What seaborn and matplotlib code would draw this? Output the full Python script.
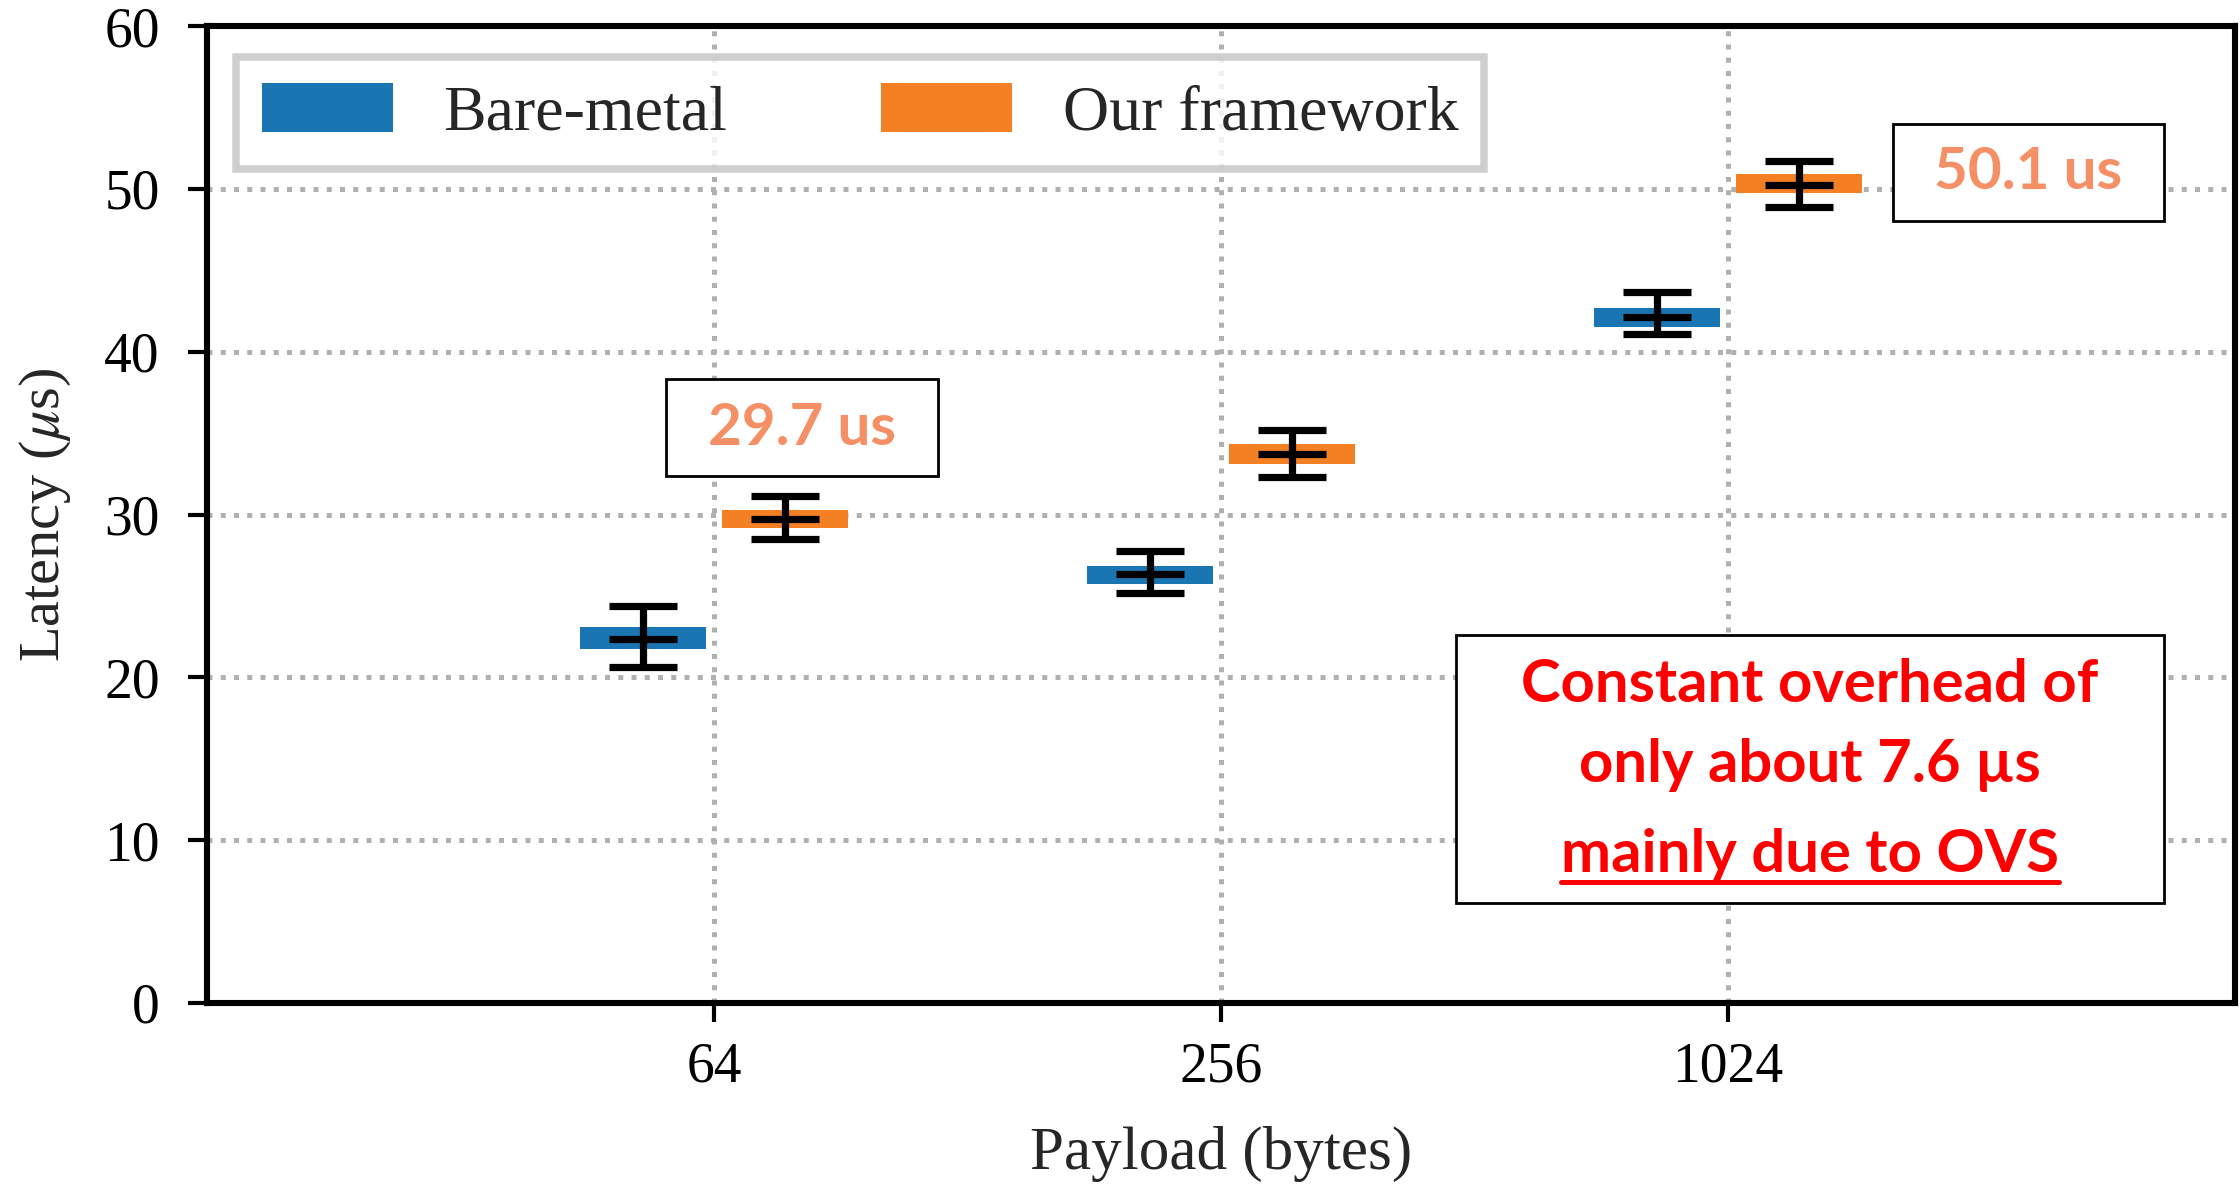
import matplotlib
matplotlib.use("Agg")
import matplotlib.pyplot as plt
from matplotlib.patches import Rectangle, Patch
import seaborn as sns
import numpy as np

# Payload sizes and systems
payloads = ['64', '256', '1024']
systems = ['Bare-metal', 'Our framework']

# Bare-metal: box bottom/top, middle line, whisker low/high (us)
bare_box_lo = [21.72, 25.73, 41.50]
bare_box_hi = [23.11, 26.86, 42.70]
bare_mid = [22.35, 26.33, 42.15]
bare_err_lo = [20.63, 25.20, 41.09]
bare_err_hi = [24.40, 27.78, 43.65]

# Our framework
ours_box_lo = [29.15, 33.08, 49.73]
ours_box_hi = [30.28, 34.31, 50.91]
ours_mid = [29.72, 33.72, 50.26]
ours_err_lo = [28.48, 32.32, 48.90]
ours_err_hi = [31.16, 35.19, 51.73]

label_64 = '29.7 us'
label_1024 = '50.1 us'
note_lines = ['Constant overhead of', 'only about 7.6 \u00b5s', 'mainly due to OVS']

colors = ['#1a76b3', '#f58024']

sns.set_style('ticks')
plt.rcParams['font.family'] = ['Liberation Serif', 'DejaVu Serif']
plt.rcParams['mathtext.fontset'] = 'stix'

fig = plt.figure(figsize=(11.2, 5.925), dpi=200)
ax = fig.add_axes([0.0924, 0.1536, 0.9054, 0.8244])

x = np.arange(len(payloads))
offset = 0.14
width = 0.25
series = [
    (bare_box_lo, bare_box_hi, bare_mid, bare_err_lo, bare_err_hi),
    (ours_box_lo, ours_box_hi, ours_mid, ours_err_lo, ours_err_hi),
]
for i, (blo, bhi, mid, elo, ehi) in enumerate(series):
    xs = x + (i * 2 - 1) * offset
    blo, bhi, mid = np.array(blo), np.array(bhi), np.array(mid)
    elo, ehi = np.array(elo), np.array(ehi)
    ax.bar(xs, bhi - blo, bottom=blo, width=width, color=colors[i],
           edgecolor='none', zorder=3)
    ax.errorbar(xs, mid, yerr=[mid - elo, ehi - mid], fmt='_', color='black',
                ms=24.5, mew=2.6, elinewidth=2.6, capsize=12.2, capthick=2.6,
                zorder=4)

ax.set_xlim(-1, 3)
ax.set_ylim(0, 60)
ax.set_xticks(x)
ax.set_xticklabels(payloads)
ax.set_yticks(np.arange(0, 61, 10))

ax.set_axisbelow(True)
ax.grid(True, linestyle=':', color='#b0b0b0', linewidth=1.8)
for sp in ax.spines.values():
    sp.set_color('black')
    sp.set_linewidth(2.2)
ax.tick_params(axis='both', direction='out', length=7, width=1.5,
               color='black', labelsize=20, labelcolor='black')
ax.tick_params(axis='y', pad=10)
ax.tick_params(axis='x', pad=7)

ax.set_ylabel('Latency ($\\mu$s)', fontsize=21)
ax.set_xlabel('Payload (bytes)', fontsize=22)
ax.yaxis.set_label_coords(-0.066, 0.5)
ax.xaxis.set_label_coords(0.5, -0.126)

handles = [Patch(facecolor=c, edgecolor='none') for c in colors]
leg = ax.legend(handles, systems, loc='upper left', bbox_to_anchor=(0.0143, 0.968),
                borderaxespad=0, ncol=2, fontsize=23, handlelength=2.05,
                handleheight=0.8, handletextpad=0.8, columnspacing=2.4,
                borderpad=0.4, fancybox=False, framealpha=0.8)
leg.get_frame().set_edgecolor('#c4c4c4')
leg.get_frame().set_linewidth(2.7)

ann_font = dict(family=['Lato', 'DejaVu Sans'], fontweight='bold')

# annotation boxes
ax.add_patch(Rectangle((-0.094, 32.36), 0.536, 5.96, fc='white', ec='black',
                       lw=1.0, zorder=5))
ax.text(0.174, 35.3, label_64, ha='center', va='center', color='#f58f66',
        zorder=6, fontsize=21, **ann_font)
ax.add_patch(Rectangle((2.326, 48.03), 0.533, 5.95, fc='white', ec='black',
                       lw=1.0, zorder=5))
ax.text(2.5925, 51.0, label_1024, ha='center', va='center', color='#f58f66',
        zorder=6, fontsize=21, **ann_font)
ax.add_patch(Rectangle((1.463, 6.14), 1.396, 16.46, fc='white', ec='black',
                       lw=1.0, zorder=5))
note_y = [19.5, 14.6, 9.1]
txts = []
for line, yy in zip(note_lines, note_y):
    txts.append(ax.text(2.161, yy, line, ha='center', va='center', color='red',
                        zorder=6, fontsize=21.5, **ann_font))

# underline last line
fig.canvas.draw()
bb = txts[-1].get_window_extent()
inv = ax.transData.inverted()
(x0, y0), (x1, _) = inv.transform([(bb.x0, bb.y0), (bb.x1, bb.y0)])
ax.plot([x0, x1], [y0, y0], color='red', lw=1.8, zorder=6)

fig.savefig('out.png', dpi=200)
